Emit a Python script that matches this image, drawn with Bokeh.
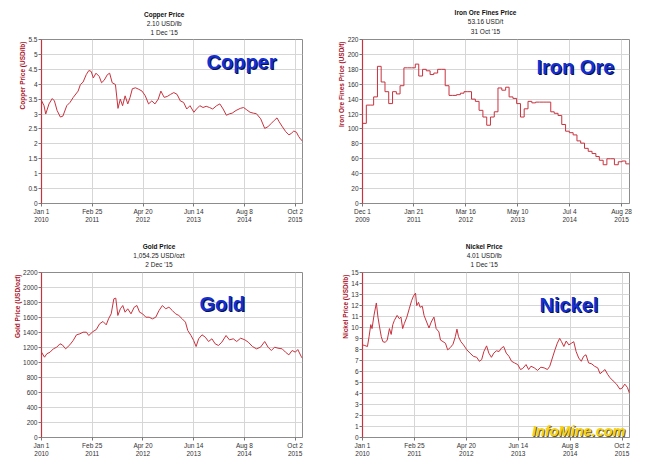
import pandas as pd
from bokeh.plotting import figure
from bokeh.layouts import gridplot
from bokeh.models import Range1d, FixedTicker, Label, ColumnDataSource, Title
from bokeh.embed import file_html
from bokeh.resources import INLINE

# ---------------- data ----------------
copper_dates = ["2010-01-01","2010-01-22","2010-02-05","2010-03-04","2010-03-31","2010-04-18","2010-05-10","2010-06-06","2010-06-27","2010-07-29","2010-08-25","2010-09-21","2010-10-31","2010-11-19","2010-12-11",
                "2011-01-06","2011-01-28","2011-02-16","2011-03-06","2011-03-28","2011-04-24","2011-05-13","2011-06-03","2011-06-30","2011-07-19","2011-08-09","2011-09-05","2011-09-26","2011-10-15","2011-11-03","2011-11-24","2011-12-16",
                "2012-01-04","2012-01-23","2012-02-18","2012-03-16","2012-04-12","2012-05-09","2012-06-05","2012-07-02","2012-07-28","2012-08-24","2012-09-15","2012-10-12","2012-11-07","2012-12-04","2012-12-31",
                "2013-01-27","2013-02-23","2013-03-22","2013-04-17","2013-05-14","2013-06-15","2013-07-07","2013-08-03","2013-08-30","2013-09-25","2013-10-22","2013-11-18","2013-12-20",
                "2014-01-16","2014-02-12","2014-03-11","2014-04-07","2014-04-28","2014-05-30","2014-07-04","2014-07-31","2014-08-27","2014-09-23","2014-10-20","2014-11-15","2014-12-20",
                "2015-01-22","2015-02-17","2015-03-16","2015-04-12","2015-05-04","2015-05-22","2015-06-18","2015-07-15","2015-08-11","2015-08-30","2015-09-20","2015-10-12","2015-10-30","2015-11-18","2015-12-01"]
copper_prices = [3.45,3.28,3.0,3.34,3.52,3.44,3.12,2.9,2.93,3.28,3.39,3.56,3.77,3.99,4.07,
                 4.32,4.46,4.43,4.21,4.37,4.26,4.05,4.13,4.32,4.37,4.05,3.99,3.19,3.5,3.28,3.61,3.34,
                 3.56,3.85,3.88,3.83,3.77,3.61,3.34,3.44,3.34,3.5,3.77,3.56,3.59,3.66,3.72,
                 3.66,3.44,3.39,3.17,3.28,3.06,3.17,3.28,3.22,3.26,3.22,3.17,3.28,
                 3.34,3.17,2.96,3.01,3.03,3.12,3.19,3.22,3.14,3.06,3.03,3.01,2.84,
                 2.52,2.57,2.68,2.79,2.87,2.74,2.57,2.41,2.3,2.35,2.43,2.39,2.25,2.14,2.10]

iron_dates = ["2009-12-01","2010-01-01","2010-02-01","2010-03-01","2010-04-01","2010-05-01","2010-06-01","2010-07-01","2010-08-01","2010-09-01","2010-10-01","2010-11-01","2010-12-01",
              "2011-01-01","2011-02-01","2011-03-01","2011-04-01","2011-05-01","2011-06-01","2011-07-01","2011-08-01","2011-09-01","2011-10-01","2011-11-01","2011-12-01",
              "2012-01-01","2012-02-01","2012-03-01","2012-04-01","2012-05-01","2012-06-01","2012-07-01","2012-08-01","2012-09-01","2012-10-01","2012-11-01","2012-12-01",
              "2013-01-01","2013-02-01","2013-03-01","2013-04-01","2013-05-01","2013-06-01","2013-07-01","2013-08-01","2013-09-01","2013-10-01","2013-11-01","2013-12-01",
              "2014-01-01","2014-02-01","2014-03-01","2014-04-01","2014-05-01","2014-06-01","2014-07-01","2014-08-01","2014-09-01","2014-10-01","2014-11-01","2014-12-01",
              "2015-01-01","2015-02-01","2015-03-01","2015-04-01","2015-05-01","2015-06-01","2015-07-01","2015-08-01","2015-09-01","2015-10-01","2015-10-31"]
iron_prices = [107.5,132,132,143,184,163,150,134,150,147,158,182,182,
               182,187,171,180,178,173,175,180,180,158,145,145,
               146,148,150,150,140,137,125,116,105,116,123,155,
               152,156,143,141,134,116,127,137,135,136,136,136,
               136,123,121,118,106,97,95,92,84,81,74,70,
               67,63,58,52,60,60,52,56,57,53.16,53.16]

gold_dates = ["2010-01-01","2010-01-26","2010-02-14","2010-03-13","2010-04-09","2010-05-07","2010-06-03","2010-06-22","2010-07-20","2010-08-24","2010-09-20","2010-10-18","2010-11-14","2010-12-11",
              "2011-01-08","2011-01-27","2011-03-04","2011-03-31","2011-04-27","2011-05-25","2011-06-21","2011-07-10","2011-08-01","2011-08-23","2011-09-08","2011-09-25","2011-10-16","2011-11-05","2011-11-24","2011-12-16",
              "2012-01-12","2012-02-08","2012-03-01","2012-03-23","2012-04-17","2012-05-14","2012-06-10","2012-07-08","2012-08-04","2012-08-31","2012-09-28","2012-10-25","2012-11-21","2012-12-19",
              "2013-01-15","2013-02-11","2013-03-11","2013-04-07","2013-04-26","2013-05-23","2013-06-14","2013-07-04","2013-07-25","2013-08-22","2013-09-18","2013-10-15","2013-11-12","2013-12-09",
              "2014-01-05","2014-02-02","2014-03-09","2014-04-06","2014-05-08","2014-06-05","2014-07-08","2014-08-12","2014-09-09","2014-10-14","2014-11-16","2014-12-19",
              "2015-01-23","2015-02-20","2015-03-19","2015-04-15","2015-05-13","2015-06-17","2015-07-14","2015-08-11","2015-09-07","2015-10-04","2015-10-24","2015-11-20","2015-12-02"]
gold_prices = [1138,1071,1116,1138,1182,1204,1249,1236,1182,1236,1293,1369,1382,1404,
               1404,1360,1413,1440,1516,1547,1502,1582,1649,1849,1858,1627,1716,1760,1671,1716,
               1649,1738,1760,1671,1649,1604,1604,1582,1604,1693,1760,1716,1738,1693,
               1649,1627,1582,1538,1427,1360,1293,1213,1316,1369,1338,1280,1316,1249,
               1227,1271,1360,1302,1316,1280,1324,1302,1271,1213,1182,1204,
               1280,1204,1160,1204,1191,1182,1138,1102,1160,1138,1173,1084,1054.25]

nickel_dates = ["2010-01-01","2010-01-20","2010-02-10","2010-02-23","2010-03-09","2010-03-19","2010-04-04","2010-04-23","2010-05-06","2010-05-19","2010-06-02","2010-06-15","2010-07-04","2010-07-20","2010-08-07","2010-08-21","2010-09-03","2010-09-16","2010-10-08","2010-10-26","2010-11-08","2010-11-22","2010-12-05","2010-12-26",
                "2011-01-14","2011-02-02","2011-02-18","2011-03-06","2011-03-16","2011-03-30","2011-04-12","2011-04-30","2011-05-14","2011-06-04","2011-06-23","2011-07-11","2011-08-02","2011-08-20","2011-09-11","2011-09-24","2011-10-15","2011-11-03","2011-11-21","2011-12-13",
                "2012-01-03","2012-01-22","2012-02-04","2012-02-17","2012-03-07","2012-03-28","2012-04-24","2012-05-20","2012-06-16","2012-07-13","2012-08-03","2012-08-22","2012-09-09","2012-10-01","2012-10-19","2012-11-09","2012-11-28","2012-12-19",
                "2013-01-10","2013-01-28","2013-02-16","2013-03-09","2013-03-31","2013-04-21","2013-05-15","2013-06-10","2013-07-02","2013-07-20","2013-08-16","2013-09-06","2013-09-25","2013-10-22","2013-11-17","2013-12-14",
                "2014-01-09","2014-02-05","2014-02-24","2014-03-17","2014-04-07","2014-04-26","2014-05-15","2014-05-30","2014-06-18","2014-07-07","2014-07-28","2014-08-18","2014-09-06","2014-09-25","2014-10-16","2014-11-06","2014-11-25","2014-12-14",
                "2015-01-04","2015-01-30","2015-02-21","2015-03-19","2015-04-07","2015-04-26","2015-05-17","2015-06-07","2015-06-26","2015-07-22","2015-08-18","2015-09-14","2015-10-02","2015-10-24","2015-11-14","2015-12-01"]
nickel_prices = [8.42,8.36,8.27,9.16,10.26,9.9,11.1,12.23,10.95,10.05,9.16,8.71,8.65,8.86,9.9,9.37,10.26,10.65,11.1,10.8,10.95,9.9,10.35,10.95,
                 11.7,12.43,12.88,13.12,11.99,12.29,11.84,11.93,11.1,10.5,9.96,10.5,10.95,9.9,9.6,8.86,8.71,8.57,7.97,8.18,
                 8.48,9.16,9.85,9.16,8.71,8.42,7.97,7.67,7.38,7.29,6.93,7.08,7.82,8.33,7.67,7.29,7.67,7.88,
                 7.82,8.12,8.27,7.67,7.38,6.93,6.78,6.63,6.18,6.27,6.63,6.18,6.48,6.33,6.1,6.39,
                 6.33,6.18,6.48,7.23,7.97,8.57,9.01,8.71,8.27,8.77,8.42,8.57,8.71,7.82,7.23,6.93,7.38,7.52,
                 6.78,6.69,6.48,6.33,5.8,5.98,6.18,5.74,5.44,5.14,4.85,4.4,4.49,4.85,4.55,4.01]

tick_dates_2010 = ["2010-01-01","2011-02-25","2012-04-20","2013-06-14","2014-08-08","2015-10-02"]
tick_labels_2010 = ["Jan 1\n2010","Feb 25\n2011","Apr 20\n2012","Jun 14\n2013","Aug 8\n2014","Oct 2\n2015"]
tick_dates_iron = ["2009-12-01","2011-01-21","2012-03-16","2013-05-10","2014-07-04","2015-08-28"]
tick_labels_iron = ["Dec 1\n2009","Jan 21\n2011","Mar 16\n2012","May 10\n2013","Jul 4\n2014","Aug 28\n2015"]

copper_yticks = [0,0.5,1,1.5,2,2.5,3,3.5,4,4.5,5,5.5]
copper_ytick_labels = ["0","0.5","1","1.5","2","2.5","3","3.5","4","4.5","5","5.5"]
iron_yticks = [0,20,40,60,80,100,120,140,160,180,200,220]
gold_yticks = [0,200,400,600,800,1000,1200,1400,1600,1800,2000,2200]
nickel_yticks = [0,1,2,3,4,5,6,7,8,9,10,11,12,13,14,15]

copper_title = ["Copper Price", "2.10 USD/lb", "1 Dec '15"]
iron_title = ["Iron Ore Fines Price", "53.16 USD/t", "31 Oct '15"]
gold_title = ["Gold Price", "1,054.25 USD/ozt", "2 Dec '15"]
nickel_title = ["Nickel Price", "4.01 USD/lb", "1 Dec '15"]

# ---------------- styling ----------------
FONT = "Liberation Sans"
LINE = "#c8323e"
GRID = "#d6d6d6"
FRAME = "#8c8c8c"
TSIZE = 6.5

# approximate Liberation Sans advance widths (1/1000 em) used to centre titles
W_REG = {" ": 278, ".": 278, ",": 278, "/": 278, "'": 191, "O": 778, "D": 722, "U": 722,
         "S": 667, "l": 222, "b": 556, "t": 278, "o": 556, "z": 500, "e": 556, "c": 500}
W_BOLD = {" ": 278, "C": 722, "P": 667, "I": 278, "O": 778, "F": 611, "G": 778, "N": 722,
          "o": 611, "p": 611, "e": 556, "r": 389, "i": 278, "c": 556, "n": 611, "s": 556,
          "l": 278, "d": 611, "k": 556}


def text_width(s, bold):
    table = W_BOLD if bold else W_REG
    return sum(table.get(ch, 556) for ch in s) / 1000.0 * TSIZE


def ms(d):
    return int(pd.Timestamp(d).value // 10**6)


def add_text(p, x, y, text, dx, dy, size, color, style="normal", align="left",
             baseline="alphabetic", font=FONT):
    p.add_layout(Label(x=x, y=y, x_offset=dx, y_offset=dy, text=text,
                       text_font=font, text_font_size=size, text_color=color,
                       text_font_style=style, text_align=align, text_baseline=baseline))


def add_title_line(p, text, center, bold, standoff, valign="bottom"):
    off = center - text_width(text, bold) / 2.0
    p.add_layout(Title(text=text, align="left", offset=off, standoff=standoff,
                       vertical_align=valign,
                       text_font=FONT, text_font_size=f"{TSIZE}px",
                       text_font_style="bold" if bold else "normal",
                       text_color="#111111" if bold else "#222222"), "above")


def panel(dates, prices, tick_dates, tick_labels, x_end, yticks, ylabels, ymax,
          title, ylabel, tag, tag_pos, title_center, title_gap, border, step=False):
    left, right, top, bottom = border
    x0 = ms(tick_dates[0])
    x1 = ms(x_end)
    p = figure(width=325, height=234, x_axis_type="datetime",
               x_range=Range1d(x0, x1), y_range=Range1d(0, ymax),
               output_backend="svg", toolbar_location=None, tools="",
               min_border_left=left, min_border_right=right,
               min_border_top=top, min_border_bottom=bottom)
    p.background_fill_color = "white"
    p.border_fill_color = "white"
    p.outline_line_color = FRAME
    p.outline_line_width = 1

    # three-line title above the frame (last line nearest to the frame)
    add_title_line(p, title[2], title_center, False, title_gap, "top")
    add_title_line(p, title[1], title_center, False, 0)
    add_title_line(p, title[0], title_center, True, 0)

    tms = [ms(d) for d in tick_dates]
    p.xaxis.ticker = FixedTicker(ticks=tms)
    p.xaxis.major_label_overrides = dict(zip(tms, tick_labels))
    p.yaxis.ticker = FixedTicker(ticks=yticks)
    p.yaxis.major_label_overrides = dict(zip(yticks, ylabels))

    for ax in (p.xaxis[0], p.yaxis[0]):
        ax.major_label_text_font = FONT
        ax.major_label_text_font_size = "6.5px"
        ax.major_label_text_color = "#333333"
        ax.major_tick_out = 3
        ax.major_tick_in = 0
        ax.major_tick_line_color = "#777777"
        ax.minor_tick_line_color = None
        ax.major_label_standoff = 1
    p.xaxis.axis_line_color = FRAME
    p.yaxis.axis_line_color = LINE
    p.yaxis.axis_line_width = 1.2

    # y-axis label, aligned to the top of the axis as in the reference
    p.add_layout(Title(text=ylabel, align="right", offset=2, standoff=0,
                       text_font=FONT, text_font_size="6.5px", text_font_style="bold",
                       text_color="#a8142a"), "left")

    p.xgrid.grid_line_color = GRID
    p.ygrid.grid_line_color = GRID

    src = ColumnDataSource(dict(x=pd.to_datetime(dates), y=prices))
    if step:
        p.step("x", "y", source=src, mode="after", line_color=LINE, line_width=1)
    else:
        p.line("x", "y", source=src, line_color=LINE, line_width=1)

    # big blue name with a dark drop shadow
    gx, gy = tag_pos
    add_text(p, x0, ymax, tag, gx + 1, gy - 1, "20px", "#0a0f4a", "bold")
    add_text(p, x0, ymax, tag, gx, gy, "20px", "#1530d2", "bold")
    return p


p1 = panel(copper_dates, copper_prices, tick_dates_2010, tick_labels_2010, "2015-12-01",
           copper_yticks, copper_ytick_labels, 5.5, copper_title, "Copper Price (USD/lb)",
           "Copper", (165, -22), 122.7, 4, (33, 23, 39, 27))
p2 = panel(iron_dates, iron_prices, tick_dates_iron, tick_labels_iron, "2015-10-31",
           iron_yticks, [str(v) for v in iron_yticks], 220, iron_title, "Iron Ore Fines Price (USD/t)",
           "Iron Ore", (174, -27), 123, 6, (37, 21, 37, 31), step=True)
p3 = panel(gold_dates, gold_prices, tick_dates_2010, tick_labels_2010, "2015-12-02",
           gold_yticks, [str(v) for v in gold_yticks], 2200, gold_title, "Gold Price (USD/ozt)",
           "Gold", (158, -31), 117.5, 4.5, (41, 22, 38, 31))
p4 = panel(nickel_dates, nickel_prices, tick_dates_2010, tick_labels_2010, "2015-12-01",
           nickel_yticks, [str(v) for v in nickel_yticks], 15, nickel_title, "Nickel Price (USD/lb)",
           "Nickel", (177, -32), 121.7, 5, (33, 21, 37, 29))

# InfoMine.com watermark at the bottom right of the nickel panel
x0n = ms(tick_dates_2010[0])
add_text(p4, x0n, 0, "InfoMine.com", 170.5, 6, "14.5px", "#6b5a10", "bold italic")
add_text(p4, x0n, 0, "InfoMine.com", 169.5, 7, "14.5px", "#f6d21a", "bold italic")

grid = gridplot([[p1, p2], [p3, p4]], toolbar_location=None)

open("out.html", "w").write(file_html(grid, INLINE))
